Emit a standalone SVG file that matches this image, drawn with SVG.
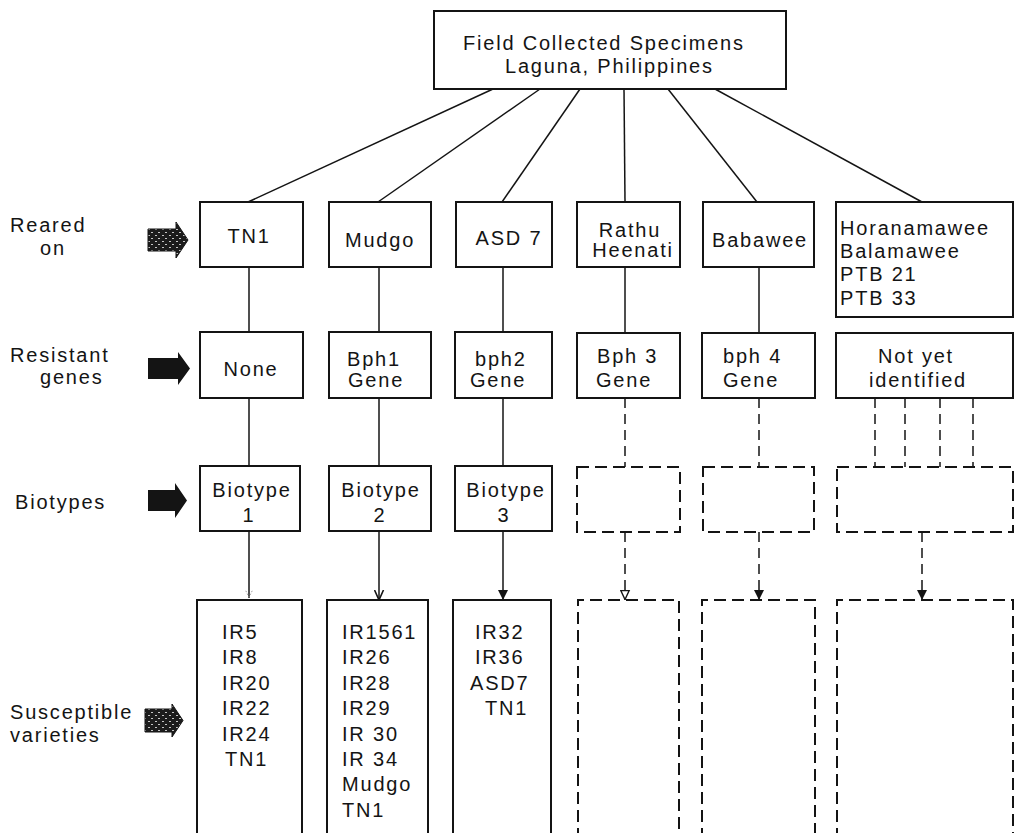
<svg xmlns="http://www.w3.org/2000/svg" width="1014" height="833" viewBox="0 0 1014 833">
  <style>
    text { font-family: "Liberation Sans", Arial, sans-serif; font-size: 20px; letter-spacing: 1.8px; fill: #141414; }
    .c { text-anchor: middle; }
    .box { fill: none; stroke: #141414; stroke-width: 2; }
    .dbox { fill: none; stroke: #141414; stroke-width: 2; stroke-dasharray: 12 6; }
    .link { fill: none; stroke: #141414; stroke-width: 1.5; }
    .dlink { fill: none; stroke: #141414; stroke-width: 1.5; stroke-dasharray: 10 6; }
    .solid-arrow { fill: #141414; }
    .stipple-arrow { fill: url(#stipple); stroke: #141414; stroke-width: 1; }
  </style>
  <defs>
    <!-- dark speckled fill for the hatched pointers -->
    <pattern id="stipple" width="7" height="6" patternUnits="userSpaceOnUse">
      <rect width="7" height="6" fill="#1c1c1c"/>
      <path d="M1 1.5h2M4 4.5h2" stroke="#d8d8d8" stroke-width="0.9"/>
    </pattern>
    <marker id="head-fill" viewBox="0 0 10 10" refX="10" refY="5" markerWidth="10" markerHeight="11" markerUnits="userSpaceOnUse" orient="auto">
      <path d="M0 0L10 5L0 10z" fill="#141414"/>
    </marker>
    <marker id="head-open" viewBox="0 0 10 10" refX="10" refY="5" markerWidth="10" markerHeight="11" markerUnits="userSpaceOnUse" orient="auto">
      <path d="M0 0.5L10 5L0 9.5" fill="none" stroke="#141414" stroke-width="1.6"/>
    </marker>
    <marker id="head-hollow" viewBox="0 0 10 10" refX="10" refY="5" markerWidth="10" markerHeight="11" markerUnits="userSpaceOnUse" orient="auto">
      <path d="M0.5 0.8L9.5 5L0.5 9.2z" fill="#fff" stroke="#141414" stroke-width="1.4"/>
    </marker>
    <marker id="head-faint" viewBox="0 0 10 10" refX="10" refY="5" markerWidth="8" markerHeight="9" markerUnits="userSpaceOnUse" orient="auto">
      <path d="M1 1L9 5L1 9" fill="none" stroke="#9a9a9a" stroke-width="1.2" stroke-dasharray="2 2"/>
    </marker>
  </defs>

  <rect width="1014" height="833" fill="#fff"/>

  <!-- row labels with pointers -->
  <g id="row-labels">
    <g id="label-reared">
      <text x="10" y="232">Reared</text>
      <text x="40" y="255">on</text>
      <path class="stipple-arrow" d="M148 229H176V222L188 240L176 258V251H148Z"/>
    </g>
    <g id="label-genes">
      <text x="10" y="362">Resistant</text>
      <text x="40" y="384">genes</text>
      <path class="solid-arrow" d="M148 358H178V352L190 368.5L178 385V379H148Z"/>
    </g>
    <g id="label-biotypes">
      <text x="15" y="509">Biotypes</text>
      <path class="solid-arrow" d="M148 490H175V483L187 500.5L175 518V511H148Z"/>
    </g>
    <g id="label-susceptible">
      <text x="10" y="719">Susceptible</text>
      <text x="10" y="742">varieties</text>
      <path class="stipple-arrow" d="M145 709H172V704L183 720.5L172 737V732H145Z"/>
    </g>
  </g>

  <!-- connectors -->
  <g id="connectors">
    <!-- from the source box to the host varieties -->
    <line class="link" x1="493" y1="89" x2="248" y2="202"/>
    <line class="link" x1="540" y1="89" x2="378" y2="202"/>
    <line class="link" x1="580" y1="89" x2="502" y2="202"/>
    <line class="link" x1="624" y1="89" x2="625" y2="202"/>
    <line class="link" x1="668" y1="89" x2="757" y2="202"/>
    <line class="link" x1="715" y1="89" x2="922" y2="202"/>
    <!-- host to gene -->
    <line class="link" x1="249" y1="267" x2="249" y2="332"/>
    <line class="link" x1="379" y1="267" x2="379" y2="332"/>
    <line class="link" x1="503" y1="267" x2="503" y2="332"/>
    <line class="link" x1="625" y1="267" x2="625" y2="333"/>
    <line class="link" x1="759" y1="267" x2="759" y2="333"/>
    <!-- gene to biotype -->
    <line class="link" x1="249" y1="398" x2="249" y2="466"/>
    <line class="link" x1="379" y1="398" x2="379" y2="466"/>
    <line class="link" x1="503" y1="398" x2="503" y2="466"/>
    <line class="dlink" x1="625" y1="398" x2="625" y2="467"/>
    <line class="dlink" x1="759" y1="398" x2="759" y2="467"/>
    <line class="dlink" x1="875" y1="398" x2="875" y2="467"/>
    <line class="dlink" x1="905" y1="398" x2="905" y2="467"/>
    <line class="dlink" x1="940" y1="398" x2="940" y2="467"/>
    <line class="dlink" x1="973" y1="398" x2="973" y2="467"/>
    <!-- biotype to susceptible varieties -->
    <line class="link" x1="249" y1="531" x2="249" y2="598" stroke-width="1.2" marker-end="url(#head-faint)"/>
    <line class="link" x1="379" y1="531" x2="379" y2="600" marker-end="url(#head-open)"/>
    <line class="link" x1="503" y1="531" x2="503" y2="600" marker-end="url(#head-fill)"/>
    <line class="dlink" x1="625" y1="532" x2="625" y2="600" marker-end="url(#head-hollow)"/>
    <line class="dlink" x1="759" y1="532" x2="759" y2="600" marker-end="url(#head-fill)"/>
    <line class="dlink" x1="922" y1="532" x2="922" y2="600" marker-end="url(#head-fill)"/>
  </g>

  <!-- source -->
  <g id="n-source">
    <rect class="box" x="434" y="11" width="352" height="78"/>
    <text x="463" y="50">Field Collected Specimens</text>
    <text x="505" y="73">Laguna, Philippines</text>
  </g>

  <!-- host varieties -->
  <g id="n-tn1">
    <rect class="box" x="200" y="202" width="103" height="65"/>
    <text class="c" x="249" y="243">TN1</text>
  </g>
  <g id="n-mudgo">
    <rect class="box" x="329" y="202" width="102" height="65"/>
    <text class="c" x="380" y="247">Mudgo</text>
  </g>
  <g id="n-asd7">
    <rect class="box" x="456" y="202" width="96" height="65"/>
    <text class="c" x="509" y="245">ASD 7</text>
  </g>
  <g id="n-rathu">
    <rect class="box" x="577" y="202" width="103" height="65"/>
    <text class="c" x="630" y="237">Rathu</text>
    <text class="c" x="633" y="257">Heenati</text>
  </g>
  <g id="n-babawee">
    <rect class="box" x="703" y="202" width="111" height="65"/>
    <text class="c" x="760" y="247">Babawee</text>
  </g>
  <g id="n-other-hosts">
    <rect class="box" x="836" y="202" width="177" height="115"/>
    <text x="840" y="235">Horanamawee</text>
    <text x="840" y="258">Balamawee</text>
    <text x="840" y="281">PTB 21</text>
    <text x="840" y="305">PTB 33</text>
  </g>

  <!-- resistance genes -->
  <g id="n-none">
    <rect class="box" x="200" y="332" width="103" height="66"/>
    <text class="c" x="251" y="376">None</text>
  </g>
  <g id="n-bph1">
    <rect class="box" x="329" y="332" width="102" height="66"/>
    <text x="347" y="366">Bph1</text>
    <text x="348" y="387">Gene</text>
  </g>
  <g id="n-bph2">
    <rect class="box" x="455" y="332" width="97" height="66"/>
    <text x="475" y="366">bph2</text>
    <text x="470" y="387">Gene</text>
  </g>
  <g id="n-bph3">
    <rect class="box" x="577" y="333" width="103" height="65"/>
    <text x="597" y="363">Bph 3</text>
    <text x="596" y="387">Gene</text>
  </g>
  <g id="n-bph4">
    <rect class="box" x="702" y="333" width="113" height="65"/>
    <text x="723" y="363">bph 4</text>
    <text x="723" y="387">Gene</text>
  </g>
  <g id="n-unknown-genes">
    <rect class="box" x="836" y="333" width="177" height="65"/>
    <text class="c" x="916" y="363">Not yet</text>
    <text class="c" x="918" y="387">identified</text>
  </g>

  <!-- biotypes -->
  <g id="n-biotype1">
    <rect class="box" x="200" y="466" width="100" height="65"/>
    <text class="c" x="252" y="497">Biotype</text>
    <text class="c" x="249" y="522">1</text>
  </g>
  <g id="n-biotype2">
    <rect class="box" x="329" y="466" width="102" height="65"/>
    <text class="c" x="381" y="497">Biotype</text>
    <text class="c" x="380" y="522">2</text>
  </g>
  <g id="n-biotype3">
    <rect class="box" x="455" y="466" width="97" height="65"/>
    <text class="c" x="506" y="497">Biotype</text>
    <text class="c" x="504" y="522">3</text>
  </g>
  <g id="n-biotype-bph3">
    <rect class="dbox" x="577" y="467" width="103" height="65"/>
  </g>
  <g id="n-biotype-bph4">
    <rect class="dbox" x="703" y="467" width="111" height="65"/>
  </g>
  <g id="n-biotype-unknown">
    <rect class="dbox" x="837" y="467" width="176" height="65"/>
  </g>

  <!-- susceptible varieties -->
  <g id="n-susc1">
    <path class="box" d="M197 840V600H302V840"/>
    <text x="222" y="639">IR5</text>
    <text x="222" y="664">IR8</text>
    <text x="222" y="690">IR20</text>
    <text x="222" y="715">IR22</text>
    <text x="222" y="741">IR24</text>
    <text x="225" y="766">TN1</text>
  </g>
  <g id="n-susc2">
    <path class="box" d="M327 840V600H428V840"/>
    <text x="342" y="639">IR1561</text>
    <text x="342" y="664">IR26</text>
    <text x="342" y="690">IR28</text>
    <text x="342" y="715">IR29</text>
    <text x="342" y="741">IR 30</text>
    <text x="342" y="766">IR 34</text>
    <text x="342" y="791">Mudgo</text>
    <text x="342" y="817">TN1</text>
  </g>
  <g id="n-susc3">
    <path class="box" d="M453 840V600H551V840"/>
    <text x="475" y="639">IR32</text>
    <text x="475" y="664">IR36</text>
    <text x="470" y="690">ASD7</text>
    <text x="485" y="715">TN1</text>
  </g>
  <g id="n-susc-bph3">
    <path class="dbox" d="M578 840V600H679V840"/>
  </g>
  <g id="n-susc-bph4">
    <path class="dbox" d="M702 840V600H815V840"/>
  </g>
  <g id="n-susc-unknown">
    <path class="dbox" d="M837 840V600H1013V840"/>
  </g>
</svg>
